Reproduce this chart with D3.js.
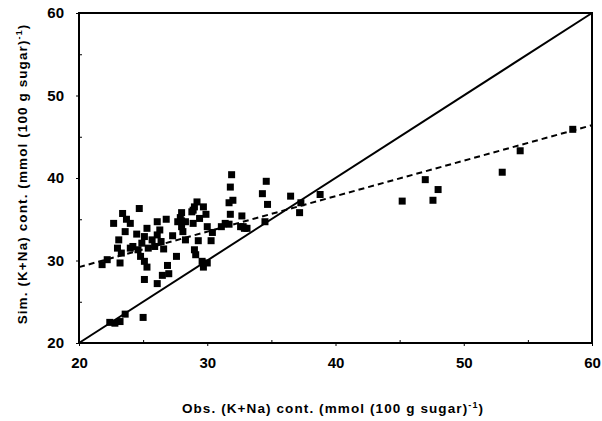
<!DOCTYPE html>
<html>
<head>
<meta charset="utf-8">
<script src="https://cdn.jsdelivr.net/npm/d3@7"></script>
<style>
  html, body { margin: 0; padding: 0; background: #fff; }
  svg { display: block; }
  text { font-family: "Liberation Sans", Arial, Helvetica, sans-serif; font-weight: bold; fill: #000; }
</style>
</head>
<body>
<svg id="chart" width="602" height="421"></svg>
<script>
// Observed vs simulated (K+Na) content, mmol (100 g sugar)^-1
const observed = [
  31.9, 31.8, 32.0, 31.7, 31.8, 29.2, 29.0, 29.7, 29.9, 28.8,
  28.9, 28.0, 27.7, 28.3, 26.8, 26.1, 24.7, 23.4, 23.7, 22.7,
  23.6, 25.3, 26.3, 26.1, 25.7, 25.1, 24.9, 23.1, 23.0, 23.3,
  24.0, 24.2, 24.6, 25.4, 25.9, 26.6, 24.8, 25.1, 25.3, 23.2,
  22.2, 21.8, 25.1, 26.1, 26.5, 27.0, 26.9, 27.6, 29.0, 29.1,
  29.6, 30.0, 29.7, 30.3, 29.3, 28.1, 28.3, 28.0, 31.1, 31.4,
  32.7, 32.8, 33.1, 22.4, 22.8, 23.2, 23.6, 25.0, 24.0, 30.0,
  29.4, 27.9, 28.0, 28.9, 31.7, 32.6, 32.9, 34.6, 34.3, 34.7,
  36.5, 38.8, 37.3, 37.2, 34.5, 45.2, 47.0, 47.6, 48.0, 53.0,
  54.4, 58.5, 30.4, 26.4, 27.3, 24.5
];
const simulated = [
  40.4, 38.9, 37.3, 37.0, 35.6, 37.1, 36.5, 36.5, 35.6, 35.9,
  34.5, 35.8, 34.7, 34.7, 35.0, 34.7, 36.3, 35.7, 35.0, 34.5,
  33.5, 33.9, 33.7, 33.1, 32.5, 32.9, 32.1, 32.5, 31.5, 30.9,
  31.5, 31.7, 31.3, 31.5, 31.7, 31.4, 30.5, 29.9, 29.2, 29.7,
  30.1, 29.5, 27.7, 27.2, 28.2, 28.4, 29.4, 30.5, 31.3, 30.7,
  29.9, 29.7, 29.2, 32.4, 32.4, 33.5, 32.5, 34.1, 34.1, 34.5,
  35.4, 34.1, 33.9, 22.5, 22.4, 22.6, 23.5, 23.1, 34.5, 34.1,
  35.1, 35.2, 34.8, 36.1, 34.4, 34.1, 33.9, 39.6, 38.1, 36.8,
  37.8, 38.0, 37.0, 35.8, 34.7, 37.2, 39.8, 37.3, 38.6, 40.7,
  43.3, 45.9, 33.4, 32.3, 33.0, 33.2
];

// Axis ticks and reference lines
const majorTicks = [20, 30, 40, 50, 60];
const minorTicks = [25, 35, 45, 55];
const identityLine = [[20, 20], [60, 60]];
const regressionLine = [[20, 29.2], [60, 46.4]];

const svg = d3.select("#chart");
const margin = { left: 79, right: 10, top: 13, bottom: 78 };
const W = 602, H = 421;

const x = d3.scaleLinear().domain([20, 60]).range([margin.left, W - margin.right]);
const y = d3.scaleLinear().domain([20, 60]).range([H - margin.bottom, margin.top]);

const g = svg.append("g");

// Reference lines
const line = d3.line().x(d => x(d[0])).y(d => y(d[1]));
g.append("path").datum(identityLine).attr("d", line)
  .attr("stroke", "#000").attr("stroke-width", 2).attr("fill", "none");
g.append("path").datum(regressionLine).attr("d", line)
  .attr("stroke", "#000").attr("stroke-width", 2).attr("fill", "none")
  .attr("stroke-dasharray", "6,4");

// Points
const pts = observed.map((o, i) => [o, simulated[i]]);
const s = 7;
g.append("g").selectAll("rect").data(pts).join("rect")
  .attr("x", d => x(d[0]) - s / 2)
  .attr("y", d => y(d[1]) - s / 2)
  .attr("width", s).attr("height", s)
  .attr("fill", "#000");

// Frame
g.append("rect")
  .attr("x", x(20)).attr("y", y(60))
  .attr("width", x(60) - x(20)).attr("height", y(20) - y(60))
  .attr("fill", "none").attr("stroke", "#000").attr("stroke-width", 2);

// Axes
const xAxis = d3.axisBottom(x).tickValues(majorTicks).tickSize(3).tickPadding(11).tickFormat(d3.format("d"));
const yAxis = d3.axisLeft(y).tickValues(majorTicks).tickSize(3).tickPadding(12).tickFormat(d3.format("d"));

const gx = svg.append("g").attr("transform", `translate(0,${y(20)})`).call(xAxis);
const gy = svg.append("g").attr("transform", `translate(${x(20)},0)`).call(yAxis);
[gx, gy].forEach(a => {
  a.select(".domain").remove();
  a.selectAll("line").attr("stroke", "#000").attr("stroke-width", 1);
  a.selectAll("text").style("font-size", "15px").style("font-weight", "bold")
    .attr("font-family", "Liberation Sans, Arial, sans-serif");
});

// Minor ticks pointing inward
const gxm = svg.append("g").attr("transform", `translate(0,${y(20)})`)
  .call(d3.axisBottom(x).tickValues(minorTicks).tickSize(-3).tickFormat(""));
const gym = svg.append("g").attr("transform", `translate(${x(20)},0)`)
  .call(d3.axisLeft(y).tickValues(minorTicks).tickSize(-3).tickFormat(""));
[gxm, gym].forEach(a => { a.select(".domain").remove(); a.selectAll("line").attr("stroke", "#000"); });

// Axis titles
const xt = svg.append("text")
  .attr("x", 333).attr("y", 413)
  .attr("text-anchor", "middle")
  .style("font-size", "13.5px")
  .style("letter-spacing", "1.1px");
xt.append("tspan").text("Obs. (K+Na) cont. (mmol (100 g sugar)");
xt.append("tspan").attr("dy", -5).style("font-size", "9px").text("-1");
xt.append("tspan").attr("dy", 5).text(")");

const yt = svg.append("text")
  .attr("transform", `translate(27,174) rotate(-90)`)
  .attr("text-anchor", "middle")
  .style("font-size", "13.5px")
  .style("letter-spacing", "1.1px");
yt.append("tspan").text("Sim. (K+Na) cont. (mmol (100 g sugar)");
yt.append("tspan").attr("dy", -5).style("font-size", "9px").text("-1");
yt.append("tspan").attr("dy", 5).text(")");
</script>
</body>
</html>
